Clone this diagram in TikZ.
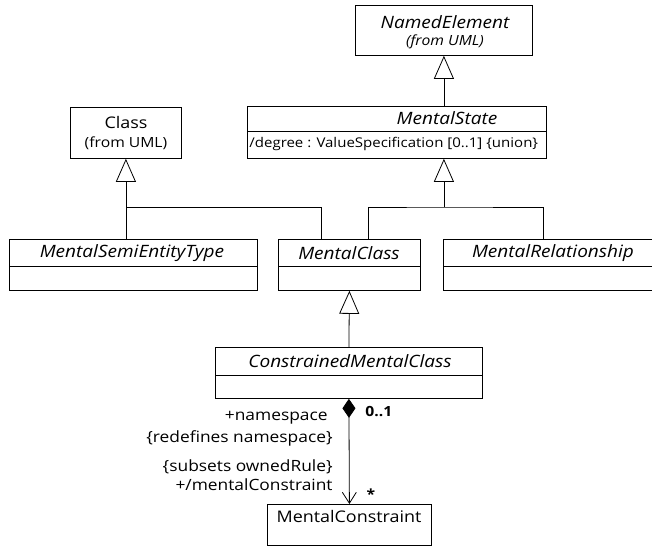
\documentclass[tikz,border=0pt]{standalone}
\usepackage{fontspec}
\setmainfont{Open Sans}[FakeStretch=1.12]
\usetikzlibrary{arrows.meta,calc}

\begin{document}
\begin{tikzpicture}[x=1pt,y=-1pt,
  line width=0.8pt,
  umlbox/.style={draw, inner sep=0pt, anchor=north west},
  cname/.style={font=\fontsize{17}{19}\selectfont\itshape, inner sep=0pt},
  ctext/.style={font=\fontsize{16}{18}\selectfont, inner sep=0pt},
  csub/.style={font=\fontsize{14}{16}\selectfont, inner sep=0pt},
  attr/.style={font=\fontsize{13.4}{16}\selectfont, inner sep=0pt, anchor=west},
  rolelabel/.style={font=\fontsize{15.5}{18}\selectfont, inner sep=0pt, anchor=east},
  mult/.style={font=\fontsize{14}{16}\selectfont\bfseries, inner sep=0pt},
  gen/.style={-{Triangle[open,length=23pt,width=20pt,fill=white]}},
  comp/.style={{Diamond[length=19pt,width=13pt]}-{Straight Barb[length=11pt,width=14pt]}}
]
\useasboundingbox (0,0) rectangle (652,547);

% class boxes
\node[umlbox, minimum width=177pt, minimum height=50pt] (ne) at (355,5) {};
\node[umlbox, minimum width=111pt, minimum height=51pt] (cls) at (70,107) {};
\node[umlbox, minimum width=299pt, minimum height=52pt] (ms) at (247,106) {};
\node[umlbox, minimum width=248pt, minimum height=51pt] (mset) at (9,239) {};
\node[umlbox, minimum width=142pt, minimum height=51pt] (mc) at (278,239) {};
\node[umlbox, minimum width=215pt, minimum height=51pt] (mr) at (443,239) {};
\node[umlbox, minimum width=267pt, minimum height=51pt] (cmc) at (215,347) {};
\node[umlbox, minimum width=164pt, minimum height=41pt] (mcon) at (267,504) {};

% compartment dividers
\draw (ms.west |- 0,131) -- (ms.east |- 0,131);
\draw (mset.west |- 0,266) -- (mset.east |- 0,266);
\draw (mc.west |- 0,266) -- (mc.east |- 0,266);
\draw (mr.west |- 0,266) -- (mr.east |- 0,266);
\draw (cmc.west |- 0,375) -- (cmc.east |- 0,375);

% class names and attributes
\node[cname] (neT) at (445,22) {NamedElement};
\node[csub, font=\fontsize{14}{16}\selectfont\itshape] (neS) at (445,42) {(from UML)};
\node[ctext] (clsT) at (126,122) {Class};
\node[csub] (clsS) at (126,143) {(from UML)};
\node[cname] (msT) at (447,118) {MentalState};
\node[attr] (msA) at (249,144) {/degree : ValueSpecification [0..1] \{union\}};
\node[cname] (msetT) at (132,253) {MentalSemiEntityType};
\node[cname] (mcT) at (349,253) {MentalClass};
\node[cname] (mrT) at (553,253) {MentalRelationship};
\node[cname] (cmcT) at (350,361) {ConstrainedMentalClass};
\node[ctext] (mconT) at (349,516) {MentalConstraint};

% generalizations
\coordinate (msj) at (ne.south |- 0,207);
\coordinate (mcA) at ($(mc.north west)+(90,0)$);
\coordinate (mrA) at ($(mr.north west)+(100,0)$);
\draw (mcA) |- (msj) -| (mrA);
\draw[gen] (msj) -- (ms.south -| msj);
\draw[gen] (ms.north -| ne.south) -- (ne.south);

\coordinate (clj) at (cls.south |- 0,207);
\coordinate (setA) at (mset.north -| clj);
\coordinate (mcB) at ($(mc.north west)+(43,0)$);
\draw (setA) |- (clj) -| (mcB);
\draw[gen] (clj) -- (cls.south);

\draw[gen] (cmc.north) -- (mc.south);

% composition
\draw[comp] (cmc.south) -- (mcon.north);
\node[mult, anchor=west] (mult1) at (365,412) {0..1};
\node[mult] (mult2) at (371,494) {*};
\node[rolelabel] (r1) at (328,418) {+namespace};
\node[rolelabel] (r2) at (333,438) {\{redefines namespace\}};
\node[rolelabel] (r3) at (333,467) {\{subsets ownedRule\}};
\node[rolelabel] (r4) at (333,485) {+/mentalConstraint};
\end{tikzpicture}
\end{document}
